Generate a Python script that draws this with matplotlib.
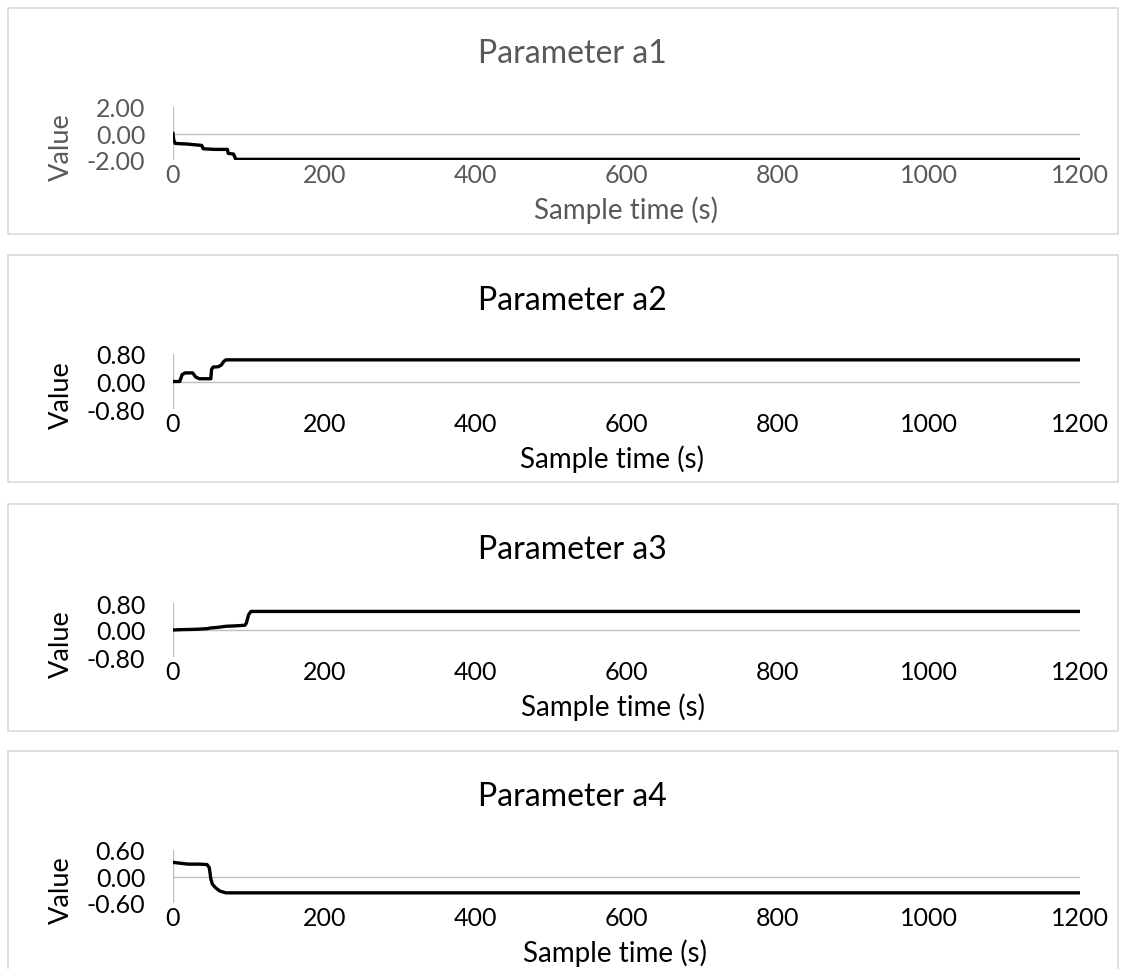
import matplotlib
matplotlib.use("Agg")
import matplotlib.pyplot as plt
from matplotlib.patches import Rectangle

plt.rcParams['font.family'] = ['Lato', 'DejaVu Sans']

# sample times (s) and parameter estimates
t_a1 = [0, 1, 3, 20, 38, 40, 55, 72, 73, 80, 82, 83, 1200]
v_a1 = [0.0, -0.5, -0.75, -0.8, -0.9, -1.15, -1.2, -1.2, -1.5, -1.55, -1.8, -1.95, -1.95]

t_a2 = [0, 9, 12, 16, 26, 30, 35, 50, 51, 53, 60, 64, 67, 70, 1200]
v_a2 = [0, 0, 0.2, 0.25, 0.25, 0.13, 0.08, 0.08, 0.35, 0.42, 0.43, 0.48, 0.58, 0.63, 0.63]

t_a3 = [0, 10, 30, 45, 50, 60, 70, 80, 95, 97, 100, 103, 1200]
v_a3 = [0, 0.01, 0.02, 0.04, 0.06, 0.08, 0.11, 0.12, 0.14, 0.2, 0.45, 0.55, 0.55]

t_a4 = [0, 10, 20, 35, 45, 48, 50, 52, 56, 62, 70, 1200]
v_a4 = [0.32, 0.3, 0.28, 0.28, 0.27, 0.2, -0.05, -0.17, -0.25, -0.33, -0.37, -0.37]

titles = ["Parameter a1", "Parameter a2", "Parameter a3", "Parameter a4"]
y_limits = [2.0, 0.8, 0.8, 0.6]
x_ticks = [0, 200, 400, 600, 800, 1000, 1200]

W, H = 1129, 970
fig = plt.figure(figsize=(W / 100, H / 100), dpi=100)

# pixel layout of each panel: box top/bottom, axes top/bottom, x-label centre
panels = [
    (9, 235, 108, 161, 626),
    (256, 483, 355, 410, 612),
    (505, 732, 604, 658, 613),
    (752, 975, 851, 904, 615),
]
box_left, box_right = 8, 1118
ax_left, ax_right = 173, 1080

series = [(t_a1, v_a1), (t_a2, v_a2), (t_a3, v_a3), (t_a4, v_a4)]

for i, ((bt, bb, at, ab, xc), (t, v)) in enumerate(zip(panels, series)):
    col = '#595959' if i == 0 else 'black'

    fig.patches.append(Rectangle((box_left / W, 1 - bb / H), (box_right - box_left) / W,
                                 (bb - bt) / H, transform=fig.transFigure, fill=False,
                                 edgecolor='#d9d9d9', linewidth=1.2))

    ax = fig.add_axes([ax_left / W, 1 - ab / H, (ax_right - ax_left) / W, (ab - at) / H])
    ax.plot(t, v, color='black', linewidth=2.4, solid_joinstyle='round')
    lim = y_limits[i]
    ax.set_xlim(0, 1200)
    ax.set_ylim(-lim, lim)
    ax.set_yticks([-lim, 0, lim])
    ax.set_yticklabels([f"{y:.2f}" for y in (-lim, 0, lim)])
    ax.set_xticks(x_ticks)
    for s in ax.spines.values():
        s.set_visible(False)
    ax.axhline(0, color='#bfbfbf', linewidth=1.0, zorder=0)
    ax.axvline(0, color='#bfbfbf', linewidth=1.0, zorder=0)
    ax.tick_params(length=0, labelsize=18, colors=col)
    ax.tick_params(axis='x', pad=2)
    ax.tick_params(axis='y', pad=20)
    ax.set_facecolor('none')

    # title centred over the whole chart box, as the spreadsheet does
    fig.text((box_left + box_right) / 2 / W + 0.008, 1 - (bt + 54) / H, titles[i],
             ha='center', va='baseline', fontsize=23, color=col)
    fig.text(xc / W, 1 - (ab + 58) / H, "Sample time (s)",
             ha='center', va='baseline', fontsize=20, color=col)
    fig.text(61 / W, 1 - ((at + ab) / 2 + 13) / H, "Value", rotation=90,
             ha='center', va='center', fontsize=19.5, color=col)

fig.savefig("out.png", dpi=100)
